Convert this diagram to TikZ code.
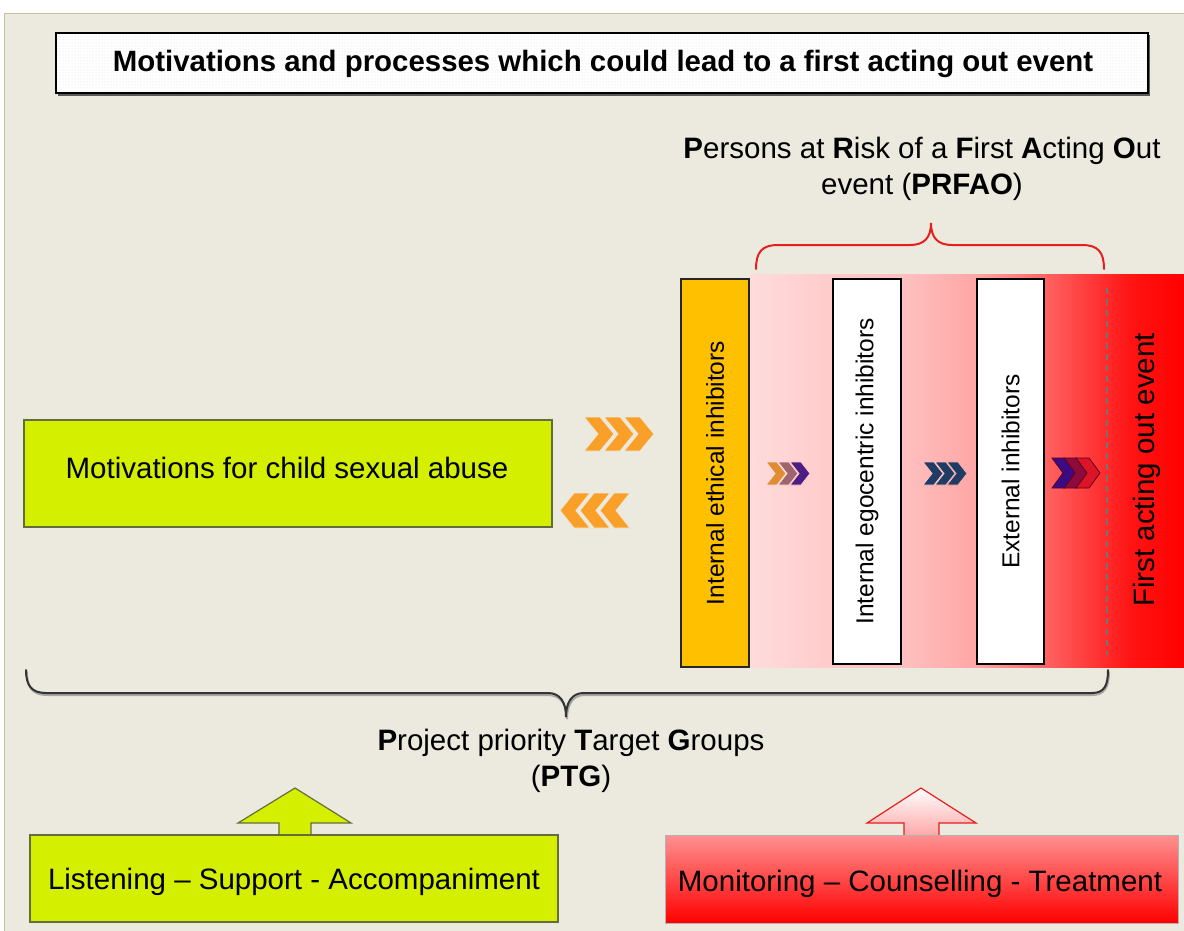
\documentclass[tikz,border=0pt]{standalone}
\usepackage{fontspec}
\setmainfont{Liberation Sans}
\usetikzlibrary{patterns}
\definecolor{bg}{RGB}{236,233,222}
\definecolor{bgline}{RGB}{200,192,160}
\definecolor{limef}{RGB}{212,240,0}
\definecolor{limed}{RGB}{100,110,60}
\definecolor{orangef}{RGB}{255,192,0}
\definecolor{chevor}{RGB}{250,160,40}
\definecolor{bA}{RGB}{255,220,220}
\definecolor{bB}{RGB}{255,202,202}
\definecolor{bC}{RGB}{255,192,192}
\definecolor{bD}{RGB}{255,166,166}
\definecolor{bE}{RGB}{255,100,100}
\definecolor{bF}{RGB}{255,20,20}
\definecolor{bG}{RGB}{255,0,0}
\definecolor{redline}{RGB}{230,30,30}
\definecolor{pinkA}{RGB}{255,165,165}
\definecolor{pinkB}{RGB}{255,145,145}
\definecolor{cOr}{RGB}{225,140,50}
\definecolor{cMa}{RGB}{160,100,110}
\definecolor{cPu}{RGB}{75,30,130}
\definecolor{cNa}{RGB}{30,60,100}
\definecolor{cVi}{RGB}{60,10,130}
\definecolor{cMr}{RGB}{140,10,60}
\definecolor{cRd}{RGB}{220,20,40}
\definecolor{cDk}{RGB}{90,0,30}
\pgfdeclarehorizontalshading{redband}{100bp}{color(0bp)=(bA); color(25bp)=(bA); color(34.7bp)=(bB); color(42.5bp)=(bC); color(51.2bp)=(bD); color(58.9bp)=(bE); color(68.8bp)=(bF); color(75bp)=(bG); color(100bp)=(bG)}
% right-pointing chevron: x y w h d fill draw
\newcommand\mychevR[7]{\path[fill=#6,draw=#7,line width=0.8] (#1,#2) -- ++(#3-#5,0) -- ++(#5,#4/2) -- ++(-#5,#4/2) -- ++(-#3+#5,0) -- ++(#5,-#4/2) -- cycle;}
% left-pointing chevron: x y w h d fill draw
\newcommand\mychevL[7]{\path[fill=#6,draw=#7,line width=0.8] (#1+#3,#2) -- ++(-#3+#5,0) -- ++(-#5,#4/2) -- ++(#5,#4/2) -- ++(#3-#5,0) -- ++(-#5,-#4/2) -- cycle;}
\begin{document}
\begin{tikzpicture}[x=1pt,y=-1pt,
  every node/.style={inner sep=0pt, outer sep=0pt},
  txt/.style={font=\fontsize{29.5}{36}\selectfont, text=black},
  rtxt/.style={font=\fontsize{24.5}{30}\selectfont, rotate=90},
  greenbox/.style={fill=limef, draw=limed, line width=1.2},
  whitebox/.style={fill=white, draw=black, line width=1.6},
  brace/.style={line width=2, line cap=round}]
\useasboundingbox (0,0) rectangle (1184,931);
\fill[white] (0,0) rectangle (1184,931);
\fill[bg] (4,13) rectangle (1184,931);
\draw[bgline, line width=1.2] (4.6,931) -- (4.6,13.6) -- (1184,13.6);

% title
\fill[black!65] (58,35.5) rectangle (1150,96);
\node[draw=black, line width=1.8, preaction={fill=white}, pattern=dots, pattern color=black!12,
  minimum width=1092, minimum height=60, anchor=north west] (titlebox) at (56,33) {};
\node[font=\bfseries\fontsize{29.4}{34}\selectfont] (title) at (603,64) {Motivations and processes which could lead to a first acting out event};

% PRFAO label and brace
\node[txt, align=center] (prfao) at (922,169) {\textbf{P}ersons at \textbf{R}isk of a \textbf{F}irst \textbf{A}cting \textbf{O}ut\\event (\textbf{PRFAO})};
\draw[brace, redline] (756,269) .. controls (756,252) and (762,245) .. (778,245) -- (910,245) .. controls (924,245) and (931,238) .. (931,223)
  .. controls (931,238) and (938,245) .. (952,245) -- (1082,245) .. controls (1098,245) and (1104,252) .. (1104,269);

% motivations box
\node[greenbox, minimum width=528, minimum height=107] (motivbox) at (288,473.5) {};
\node[txt] (motiv) at (287,468) {Motivations for child sexual abuse};

% orange chevrons
\mychevR{584}{417}{30}{34}{14}{chevor}{bg}
\mychevR{604}{417}{30}{34}{14}{chevor}{bg}
\mychevR{624}{417}{30}{34}{14}{chevor}{bg}
\mychevL{600}{493}{30}{35}{14}{chevor}{bg}
\mychevL{580}{493}{30}{35}{14}{chevor}{bg}
\mychevL{560}{493}{30}{35}{14}{chevor}{bg}

% red band
\shade[shading=redband] (749,274) rectangle (1184,667);
\draw[black!55, line width=1.5, dash pattern=on 6pt off 5pt] (1107,288) -- (1107,655);

% inhibitor boxes
\node[fill=orangef, draw=black!85, line width=1.6, rotate=90, minimum width=388, minimum height=68,
  font=\fontsize{24.5}{30}\selectfont] (ethical) at (715,473) {Internal ethical inhibitors};
\node[whitebox, rotate=90, minimum width=385, minimum height=68,
  font=\fontsize{24.5}{30}\selectfont] (egocentric) at (867,471.5) {Internal egocentric inhibitors};
\node[whitebox, rotate=90, minimum width=385, minimum height=67,
  font=\fontsize{24.5}{30}\selectfont] (external) at (1010.5,471.5) {External inhibitors};
\node[txt, rotate=90] (first) at (1147,470) {First acting out event};

% small chevrons
\mychevR{766}{462}{20}{23}{9}{cOr}{bA}
\mychevR{778}{462}{20}{23}{9}{cMa}{bA}
\mychevR{790}{462}{20}{23}{9}{cPu}{bB}
\mychevR{923}{462}{20}{23}{9}{cNa}{bC}
\mychevR{935}{462}{20}{23}{9}{cNa}{bC}
\mychevR{947}{462}{20}{23}{9}{cNa}{bD}
\mychevR{1052}{458}{24}{30}{11}{cVi}{cDk}
\mychevR{1064}{458}{24}{30}{11}{cMr}{cDk}
\mychevR{1076}{458}{24}{30}{11}{cRd}{cDk}

% PTG brace and label
\draw[brace, black!35] (27,672) .. controls (27,688) and (33,695) .. (47,695) -- (548,695) .. controls (560,695) and (567,704) .. (567,719)
  .. controls (567,704) and (573,695) .. (585,695) -- (1092,695) .. controls (1104,695) and (1109,688) .. (1109,672);
\draw[brace, black!80] (26,670) .. controls (26,686) and (32,693) .. (46,693) -- (548,693) .. controls (560,693) and (566,702) .. (566,717)
  .. controls (566,702) and (572,693) .. (584,693) -- (1092,693) .. controls (1104,693) and (1108,686) .. (1108,670);
\node[txt, align=center] (ptg) at (571,761) {\textbf{P}roject priority \textbf{T}arget \textbf{G}roups\\(\textbf{PTG})};

% up arrows
\path[fill=limef, draw=limed, line width=1.2] (279,837) -- (279,823) -- (238,823) -- (295,788) -- (351,823) -- (311,823) -- (311,837) -- cycle;
\path[top color=white, bottom color=pinkA, draw=redline, line width=1.2] (904,837) -- (904,823) -- (867,823) -- (921,788) -- (976,823) -- (939,823) -- (939,837) -- cycle;

% bottom boxes
\node[greenbox, minimum width=528, minimum height=87] (listen) at (294,878.5) {};
\node[txt] (listentext) at (294,882) {Listening -- Support - Accompaniment};
\node[top color=pinkB, bottom color=red, draw=black!30, line width=1, minimum width=513, minimum height=88] (monitor) at (921.5,879) {};
\node[txt] (monitortext) at (920,884) {Monitoring -- Counselling - Treatment};
\end{tikzpicture}
\end{document}
